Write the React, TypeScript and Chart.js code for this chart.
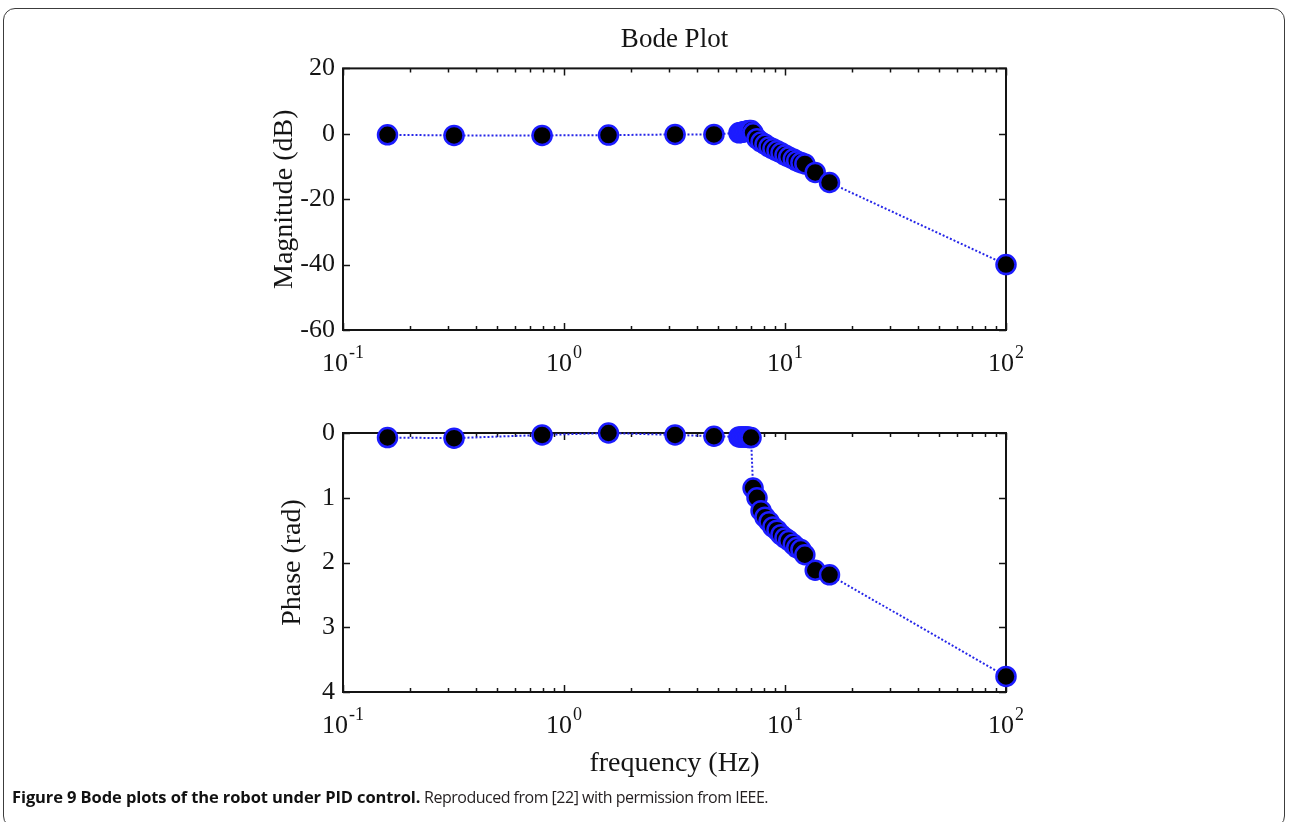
import React, { useEffect, useRef } from 'react';
import { Chart, registerables } from 'chart.js';

Chart.register(...registerables);

// ---- data ----
const freqHz = [
  0.159, 0.318, 0.796, 1.59, 3.18, 4.77,
  6.19, 6.3, 6.4, 6.5, 6.6, 6.7, 6.8, 6.9, 7.02,
  7.17, 7.47, 7.79, 8.12, 8.47, 8.82, 9.2, 9.59, 10.0, 10.4, 10.9, 11.3, 11.8, 12.3,
  13.7, 15.9, 100,
];
const magnitudeDb = [
  -0.3, -0.5, -0.5, -0.4, -0.2, -0.2,
  0.3, 0.4, 0.5, 0.6, 0.7, 0.8, 0.9, 1.0, 1.0,
  0.3, -1.5, -2.5, -3.2, -4.0, -4.6, -5.2, -5.8, -6.5, -7.1, -7.7, -8.3, -8.8, -9.2,
  -11.8, -14.9, -40.0,
];
const phaseRad = [
  0.07, 0.08, 0.03, 0.0, 0.03, 0.05,
  0.06, 0.06, 0.06, 0.06, 0.06, 0.06, 0.06, 0.07, 0.07,
  0.85, 1.0, 1.2, 1.3, 1.37, 1.45, 1.5, 1.57, 1.62, 1.66, 1.72, 1.77, 1.8, 1.88,
  2.12, 2.19, 3.76,
];

// ---- axes ----
const xMajorTicks = [0.1, 1, 10, 100];
const xTickExponents = ['-1', '0', '1', '2'];
const xDecades = [0.1, 1, 10];
const xMinorSteps = [2, 3, 4, 5, 6, 7, 8, 9];
const magTicks = [-60, -40, -20, 0, 20];
const phaseTicks = [0, 1, 2, 3, 4];

const chartTitle = 'Bode Plot';
const magLabel = 'Magnitude (dB)';
const phaseLabel = 'Phase (rad)';
const freqLabel = 'frequency (Hz)';

const W = 1289;
const H = 822;
const serif = "'Liberation Serif', 'Times New Roman', serif";
const ink = '#141414';

const matlabFrame = {
  id: 'matlabFrame',
  beforeDatasetsDraw(chart: any) {
    const { ctx, chartArea: a } = chart;
    const xs = chart.scales.x;
    const ys = chart.scales.y;
    ctx.save();
    ctx.strokeStyle = ink;
    ctx.lineWidth = 1.5;
    ctx.beginPath();
    const xTick = (v: number, len: number) => {
      const px = Math.round(xs.getPixelForValue(v)) + 0.5;
      ctx.moveTo(px, a.bottom);
      ctx.lineTo(px, a.bottom - len);
      ctx.moveTo(px, a.top);
      ctx.lineTo(px, a.top + len);
    };
    xDecades.forEach((d) => xMinorSteps.forEach((m) => xTick(d * m, 4)));
    xMajorTicks.forEach((v) => xTick(v, 7));
    ys.ticks.forEach((t: any) => {
      const py = Math.round(ys.getPixelForValue(t.value)) + 0.5;
      ctx.moveTo(a.left, py);
      ctx.lineTo(a.left + 7, py);
      ctx.moveTo(a.right, py);
      ctx.lineTo(a.right - 7, py);
    });
    ctx.stroke();
    ctx.lineWidth = 2;
    ctx.strokeRect(a.left, a.top, a.right - a.left, a.bottom - a.top);

    // x tick labels as 10^n
    ctx.fillStyle = ink;
    ctx.textBaseline = 'alphabetic';
    ctx.textAlign = 'left';
    const base = a.bottom + 41;
    xMajorTicks.forEach((v, i) => {
      const px = xs.getPixelForValue(v);
      ctx.font = `26px ${serif}`;
      const w1 = ctx.measureText('10').width;
      ctx.font = `18px ${serif}`;
      const w2 = ctx.measureText(xTickExponents[i]).width;
      const start = px - (w1 + w2 + 1) / 2;
      ctx.font = `26px ${serif}`;
      ctx.fillText('10', start, base);
      ctx.font = `18px ${serif}`;
      ctx.fillText(xTickExponents[i], start + w1 + 1, base - 13);
    });
    ctx.restore();
  },
};

function makeConfig(opts: {
  values: number[];
  yMin: number;
  yMax: number;
  yTicks: number[];
  yTitle: string;
  reverse: boolean;
  padding: { left: number; right: number; top: number; bottom: number };
  yWidth: number;
  xHeight: number;
  title?: string;
  xTitle?: string;
}): any {
  return {
    type: 'line',
    data: {
      datasets: [
        {
          data: freqHz.map((f, i) => ({ x: f, y: opts.values[i] })),
          borderColor: '#2626e8',
          borderWidth: 2,
          borderDash: [2, 2],
          tension: 0,
          fill: false,
          clip: false,
          pointRadius: 9.5,
          pointBackgroundColor: '#000000',
          pointBorderColor: '#1c1cff',
          pointBorderWidth: 2.5,
        },
      ],
    },
    options: {
      responsive: false,
      animation: false,
      devicePixelRatio: 1,
      events: [],
      layout: { padding: opts.padding },
      plugins: {
        legend: { display: false },
        tooltip: { enabled: false },
        title: opts.title
          ? {
              display: true,
              text: opts.title,
              fullSize: false,
              color: ink,
              font: { family: serif, size: 27, weight: 'normal' },
              padding: { top: 24, bottom: 12 },
            }
          : { display: false },
      },
      scales: {
        x: {
          type: 'logarithmic',
          min: 0.1,
          max: 100,
          grid: { display: false, drawTicks: false },
          border: { display: false },
          ticks: { display: false },
          afterBuildTicks: (s: any) => {
            s.ticks = xMajorTicks.map((v) => ({ value: v }));
          },
          afterFit: (s: any) => {
            s.height = opts.xHeight;
          },
          title: opts.xTitle
            ? {
                display: true,
                text: opts.xTitle,
                color: ink,
                font: { family: serif, size: 28, weight: 'normal' },
                padding: { top: 0, bottom: 0 },
              }
            : { display: false },
        },
        y: {
          type: 'linear',
          min: opts.yMin,
          max: opts.yMax,
          reverse: opts.reverse,
          grid: { display: false, drawTicks: false },
          border: { display: false },
          afterBuildTicks: (s: any) => {
            s.ticks = opts.yTicks.map((v) => ({ value: v }));
          },
          afterFit: (s: any) => {
            s.width = opts.yWidth;
          },
          ticks: {
            color: ink,
            padding: 8,
            font: { family: serif, size: 26 },
            callback: (v: any) => String(v),
          },
          title: {
            display: true,
            text: opts.yTitle,
            color: ink,
            font: { family: serif, size: 28, weight: 'normal' },
            padding: { top: 0, bottom: 0 },
          },
        },
      },
    },
    plugins: [matlabFrame],
  };
}

export default function App() {
  const topRef = useRef<HTMLCanvasElement | null>(null);
  const botRef = useRef<HTMLCanvasElement | null>(null);

  useEffect(() => {
    if (!topRef.current || !botRef.current) return;
    const top = new Chart(
      topRef.current,
      makeConfig({
        values: magnitudeDb,
        yMin: -60,
        yMax: 20,
        yTicks: magTicks,
        yTitle: magLabel,
        reverse: false,
        padding: { left: 268, right: W - 1006, top: 0, bottom: H - 380 },
        yWidth: 75,
        xHeight: 50,
        title: chartTitle,
      })
    );
    const bot = new Chart(
      botRef.current,
      makeConfig({
        values: phaseRad,
        yMin: 0,
        yMax: 4,
        yTicks: phaseTicks,
        yTitle: phaseLabel,
        reverse: true,
        padding: { left: 276, right: W - 1006, top: 433, bottom: 42 },
        yWidth: 67,
        xHeight: 88,
        xTitle: freqLabel,
      })
    );
    return () => {
      top.destroy();
      bot.destroy();
    };
  }, []);

  const canvasStyle: React.CSSProperties = {
    position: 'absolute',
    left: 0,
    top: 0,
    width: W,
    height: H,
  };

  return (
    <div
      style={{
        position: 'fixed',
        left: 0,
        top: 0,
        width: W,
        height: H,
        background: '#ffffff',
        overflow: 'hidden',
      }}
    >
      <div
        style={{
          position: 'absolute',
          left: 3,
          top: 8,
          width: 1282,
          height: 820,
          border: '1px solid #3c3c3c',
          borderRadius: 12,
          boxSizing: 'border-box',
        }}
      />
      <canvas ref={topRef} width={W} height={H} style={canvasStyle} />
      <canvas ref={botRef} width={W} height={H} style={canvasStyle} />
      <div
        style={{
          position: 'absolute',
          left: 12,
          top: 785,
          fontFamily: "'Open Sans', 'Noto Sans', sans-serif",
          lineHeight: '23px',
          color: '#231f20',
          whiteSpace: 'nowrap',
        }}
      >
        <span style={{ fontWeight: 700, color: '#111', fontSize: 16.5, letterSpacing: '-0.1px' }}>
          Figure 9 Bode plots of the robot under PID control.
        </span>
        <span style={{ fontSize: 16, letterSpacing: '-0.5px' }}>
          {' '}Reproduced from [22] with permission from IEEE.
        </span>
      </div>
    </div>
  );
}
